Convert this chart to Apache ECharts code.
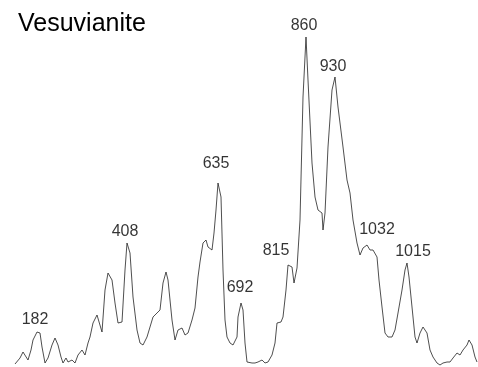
<!DOCTYPE html>
<html>
<head>
<meta charset="utf-8">
<script src="https://cdn.jsdelivr.net/npm/echarts@6/dist/echarts.min.js"></script>
<style>html,body{margin:0;padding:0;background:#fff}#c{width:478px;height:367px}</style>
</head>
<body>
<div id="c"></div>
<script>
// Spectrum trace (arbitrary horizontal position, relative intensity)
const position = [15,17,20,23,25,28,31,33,37,40,42,45,48,52,55,58,61,63,66,68,72,75,78,82,85,88,90,93,97,99,102,105,108,112,115,118,122,125,127,130,133,137,140,143,147,150,153,157,160,163,166,168,172,175,178,182,185,188,192,195,198,200,203,206,208,212,214,216,218,221,223,225,227,230,233,237,238,241,243,245,247,252,255,258,262,265,268,272,275,277,281,283,286,288,292,294,297,300,303,306,308,312,315,318,322,323,325,328,332,335,338,343,347,350,353,357,360,363,367,370,373,377,379,382,385,388,392,395,398,402,405,407,409,412,415,417,420,423,427,430,433,437,440,443,447,450,453,457,460,463,467,469,472,475,477];
const intensity = [3,2,9,15,14,7,17,27,35,34,20,4,9,22,29,22,10,4,9,5,7,4,12,17,12,24,30,44,52,54,35,77,94,87,64,44,45,97,124,114,70,37,24,22,30,40,50,54,57,84,95,87,47,27,37,39,32,34,47,59,90,105,124,127,120,117,134,157,184,170,97,47,30,24,22,30,50,64,57,24,5,4,4,5,7,4,5,12,24,44,45,50,77,102,100,84,99,147,270,330,287,204,170,157,154,137,154,220,277,290,260,220,187,174,147,124,112,119,122,117,117,110,87,60,34,30,30,37,54,77,97,104,90,60,30,24,34,40,34,17,10,4,2,4,5,5,9,14,12,17,22,27,22,10,5];
// Peak annotations
const peakLabels = ['182','408','635','692','815','860','930','1032','1015'];
const labelPos = [35,125,216,240,276,304,333,377,413];
const labelLevel = [47,135,203,79,116,341,300,137,115];

const chart = echarts.init(document.getElementById('c'));
chart.setOption({
  animation: false,
  backgroundColor: '#fff',
  title: {
    text: 'Vesuvianite', left: 13, top: 7,
    textStyle: {fontSize: 25, fontWeight: 'normal', color: '#000', fontFamily: 'Liberation Sans, Arial, sans-serif'}
  },
  grid: {left: 0, right: 0, top: 0, bottom: 0},
  xAxis: {type: 'value', min: 0, max: 478, show: false},
  yAxis: {type: 'value', min: 0, max: 367, show: false},
  series: [
    {
      type: 'line', data: position.map((x, i) => [x, intensity[i]]),
      symbol: 'none', lineStyle: {color: '#222', width: 0.8}
    },
    {
      type: 'scatter', symbolSize: 0,
      data: peakLabels.map((t, i) => [labelPos[i], labelLevel[i], t]),
      label: {show: true, position: 'inside', formatter: p => p.data[2],
        fontSize: 16, color: '#000', fontFamily: 'Liberation Sans, Arial, sans-serif'}
    }
  ]
});
</script>
</body>
</html>
